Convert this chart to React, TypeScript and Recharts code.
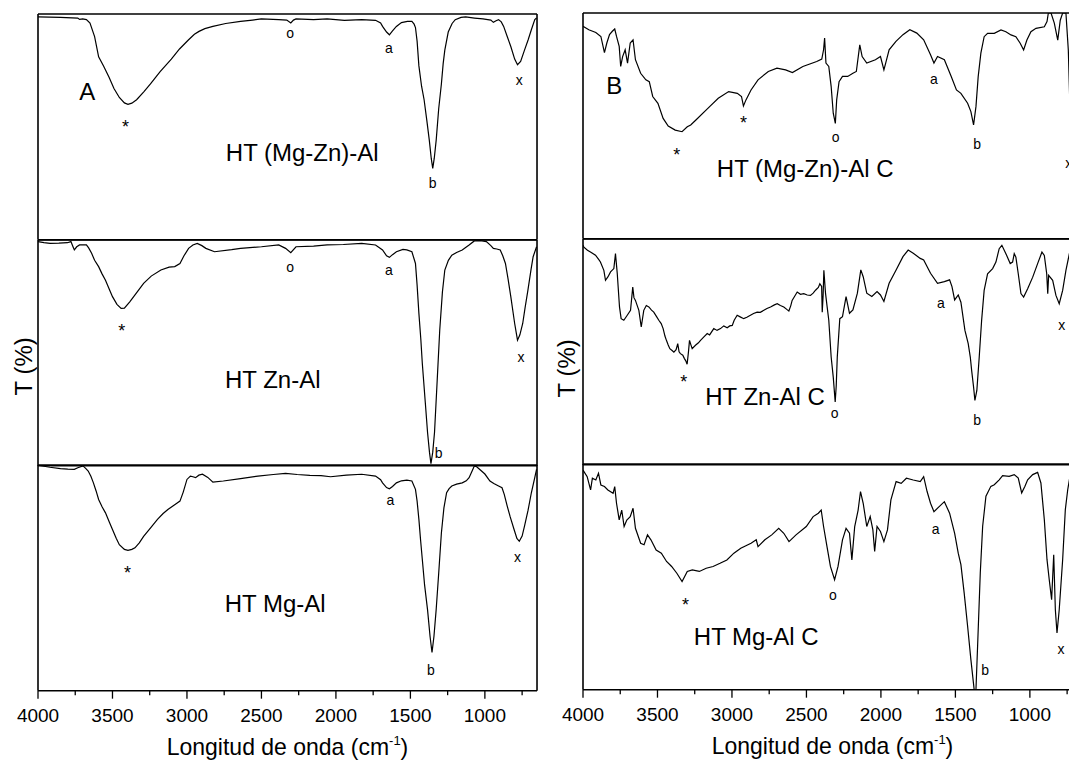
import React from 'react';
import { LineChart, Line, XAxis, YAxis, ReferenceDot, Label } from 'recharts';

const FONT = '"Liberation Sans", Arial, Helvetica, sans-serif';

type Pair = [number, number];
type Note = [string, number, number];

// axis ticks (wavenumber, cm-1) and the transmittance grid ticks
const xTicks = [4000, 3750, 3500, 3250, 3000, 2750, 2500, 2250, 2000, 1750, 1500, 1250, 1000, 750];
const yTicks = [12.5, 25, 37.5, 50, 62.5, 75, 87.5];
const xDomain: [number, number] = [650, 4000];
const yDomain: [number, number] = [0, 100];
const xTitle = 'Longitud de onda (cm';
const xTitleSup = '-1';
const yTitle = 'T (%)';

// ---- Panel A spectra: [wavenumber, T (relative)] ----
const htMgZnAl: Pair[] = [
  [4000, 98.7], [3850, 98.5], [3733, 98.2], [3721, 97.6], [3700, 97.8], [3675, 97.5], [3651, 96], [3620, 90],
  [3593, 81], [3560, 77], [3523, 72], [3490, 67], [3454, 63], [3420, 60.6], [3396, 60], [3370, 60.5], [3338, 62],
  [3290, 65.5], [3245, 69], [3180, 74.5], [3105, 80], [3050, 84.5], [2989, 88.6], [2950, 91], [2919, 92.3],
  [2880, 93.5], [2826, 94.5], [2740, 95.8], [2640, 96.7], [2560, 97.3], [2501, 97.8], [2384, 97.5], [2330, 97.3],
  [2303, 96], [2285, 97.3], [2268, 97.8], [2150, 97.5], [2059, 97.8], [1943, 97.2], [1827, 97.5], [1734, 97.2],
  [1700, 96], [1687, 94.5], [1660, 92], [1641, 90.8], [1620, 92.5], [1594, 94.5], [1560, 96.2], [1520, 96.7],
  [1490, 96.7], [1475, 95.5], [1466, 94], [1455, 88], [1443, 77], [1425, 68], [1408, 62], [1390, 53], [1373, 44],
  [1360, 36], [1350, 31.6], [1340, 36], [1327, 44], [1310, 58], [1292, 69], [1280, 78], [1269, 84], [1246, 92],
  [1220, 95.8], [1199, 97.5], [1160, 98.5], [1129, 98.7], [1070, 98.2], [1013, 97.8], [960, 97.3], [943, 96.3],
  [925, 97], [908, 97.5], [890, 96.5], [874, 94.5], [850, 90], [826, 85.6], [800, 80], [781, 77.5], [760, 79],
  [734, 84], [710, 88.5], [688, 93], [665, 97.5], [653, 98.2],
];

const htZnAl: Pair[] = [
  [4000, 99.3], [3960, 98.8], [3919, 98.5], [3860, 98.6], [3802, 98.8], [3779, 99.3], [3765, 97], [3756, 95.6],
  [3740, 97], [3721, 97.8], [3675, 97.8], [3660, 96.5], [3640, 94.1], [3620, 91], [3593, 88.2], [3570, 85],
  [3547, 82.2], [3520, 78], [3500, 74.9], [3470, 71.5], [3442, 69.7], [3420, 69.8], [3384, 72.6], [3340, 76.5],
  [3291, 80.8], [3240, 84], [3175, 86.7], [3120, 88], [3082, 88.2], [3047, 89.6], [3020, 93], [2989, 96.3],
  [2960, 97.8], [2931, 98.5], [2900, 97.5], [2873, 96.3], [2815, 94.8], [2700, 95.7], [2640, 96.3], [2500, 97],
  [2384, 97.8], [2338, 96.3], [2303, 94.4], [2268, 97], [2150, 97.3], [2059, 97.8], [1950, 98], [1827, 98.5],
  [1734, 97.8], [1687, 95.6], [1660, 93], [1641, 92.3], [1620, 93.5], [1594, 94.8], [1550, 95.8], [1524, 95.6],
  [1490, 94.8], [1466, 89.6], [1455, 80], [1443, 67.5], [1430, 56], [1420, 45.3], [1400, 28], [1385, 14.8],
  [1372, 6], [1362, 0.9], [1350, 6], [1338, 14.8], [1320, 38], [1303, 60.1], [1285, 77], [1269, 86.7],
  [1245, 91], [1222, 93.3], [1190, 94.5], [1152, 95.6], [1106, 97.8], [1071, 99.6], [1030, 99.7], [990, 99.3],
  [960, 97.5], [943, 96.3], [920, 96], [897, 95.6], [880, 93], [862, 89.6], [845, 83], [826, 74.9], [800, 63],
  [781, 55.6], [765, 58], [746, 63], [730, 70], [711, 77.8], [690, 87], [676, 92.6], [653, 97],
];

const htMgAl: Pair[] = [
  [4000, 99.9], [3920, 99], [3849, 98.4], [3800, 98.2], [3756, 98.1], [3733, 98.8], [3698, 99.6], [3680, 98.5],
  [3663, 97.3], [3645, 95], [3628, 92.1], [3610, 88.5], [3593, 84.7], [3570, 81.5], [3547, 78.8], [3520, 74.5],
  [3500, 71.4], [3475, 67.5], [3454, 64.7], [3420, 62.6], [3396, 62.2], [3370, 62.6], [3349, 63.3], [3320, 65.5],
  [3291, 68.4], [3240, 72.5], [3198, 75.9], [3160, 78.5], [3128, 80.3], [3080, 82.5], [3047, 84], [3025, 88],
  [3000, 93.6], [2977, 95.1], [2960, 94.8], [2942, 94.4], [2920, 95.5], [2896, 95.9], [2860, 94.5], [2826, 92.4],
  [2756, 92.9], [2640, 94], [2524, 95.1], [2420, 95.8], [2338, 96.3], [2260, 95.8], [2175, 95.4], [2100, 95.3],
  [2036, 94.8], [1930, 95.5], [1827, 95.9], [1734, 95.1], [1700, 93.5], [1687, 92.1], [1660, 90], [1641, 89.5],
  [1620, 90.5], [1594, 92.1], [1560, 93], [1524, 93.3], [1490, 92.9], [1466, 89.2], [1455, 84], [1443, 75.9],
  [1432, 67], [1420, 58.1], [1405, 47], [1385, 35.9], [1368, 24], [1355, 16.9], [1342, 24], [1327, 35.9],
  [1310, 52], [1292, 69.9], [1275, 81], [1257, 87.7], [1240, 89.5], [1222, 90.7], [1190, 91.5], [1152, 92.1],
  [1125, 93], [1106, 94.4], [1085, 97.5], [1071, 99.6], [1055, 99.2], [1036, 98.1], [1000, 96], [966, 92.9],
  [940, 91.8], [908, 90.7], [885, 89.9], [870, 87], [850, 81.8], [830, 77], [804, 71.4], [785, 67.5], [769, 66.2],
  [750, 68.5], [734, 72.9], [710, 80], [688, 87.7], [670, 93], [653, 98.1],
];

// ---- Panel B spectra (calcined) ----
const htMgZnAlC: Pair[] = [
  [4000, 94.1], [3961, 92.6], [3914, 91.4], [3880, 89.6], [3856, 82.4], [3840, 86.7], [3822, 90.4], [3803, 91.9],
  [3787, 92.9], [3775, 89.6], [3757, 85.2], [3747, 76.3], [3734, 80.7], [3717, 83.7], [3701, 77.8], [3683, 86.7],
  [3664, 88.1], [3648, 79.3], [3613, 73.3], [3578, 70.4], [3555, 69.6], [3532, 63], [3497, 60], [3462, 53.3],
  [3428, 49.9], [3381, 48.1], [3335, 47.4], [3300, 49.6], [3277, 50.4], [3242, 52.6], [3150, 58.5], [3092, 62.2],
  [3022, 65.2], [2964, 64.4], [2936, 63], [2923, 58.8], [2906, 61.5], [2872, 65.9], [2825, 70.4], [2756, 74.1],
  [2698, 75.6], [2640, 74.8], [2594, 73.6], [2524, 76.3], [2431, 78.5], [2397, 79.6], [2385, 83.7], [2378, 88.9],
  [2369, 77.8], [2350, 76.3], [2334, 67.4], [2320, 55.6], [2306, 51.1], [2297, 61.5], [2281, 69.6], [2258, 71.9],
  [2223, 71.9], [2188, 73.3], [2165, 74.1], [2142, 85.9], [2126, 80.7], [2095, 77.8], [2037, 79.3], [2003, 80.7],
  [1980, 74.8], [1968, 77.8], [1945, 83.7], [1899, 87.4], [1852, 90.4], [1806, 92.6], [1759, 91.1], [1713, 88.1],
  [1667, 81.5], [1644, 77.8], [1620, 80.7], [1574, 79.3], [1528, 71.9], [1493, 65.9], [1463, 64.4], [1418, 60],
  [1396, 56.3], [1378, 50.4], [1362, 58.5], [1347, 71.8], [1329, 82.2], [1307, 89.5], [1284, 91], [1239, 91],
  [1194, 92.5], [1161, 91.7], [1127, 90.3], [1094, 89.5], [1065, 86.6], [1042, 83.6], [1020, 88], [993, 91.7],
  [959, 93.2], [903, 93.9], [885, 96.2], [876, 100], [858, 100], [836, 95.5], [813, 88], [796, 96.8], [780, 100],
  [758, 100], [742, 83.6], [733, 63], [722, 35],
];

const htZnAlC: Pair[] = [
  [4000, 97.2], [3994, 96.4], [3970, 95], [3950, 94.2], [3916, 92.8], [3895, 91], [3883, 89.8], [3860, 86.1],
  [3849, 81.7], [3833, 83.2], [3815, 85.4], [3793, 86.9], [3782, 93.5], [3770, 84.7], [3755, 69.9], [3744, 64.7],
  [3726, 64], [3703, 66.2], [3681, 68.4], [3666, 78.7], [3658, 74], [3648, 72.8], [3625, 68.4], [3609, 61],
  [3592, 68.4], [3575, 70.5], [3558, 69.9], [3540, 68.5], [3525, 67.6], [3505, 65.5], [3491, 64], [3475, 62.5],
  [3462, 60.3], [3450, 57], [3440, 55.1], [3428, 53], [3417, 51.4], [3400, 50.5], [3390, 49.9], [3375, 51],
  [3364, 53.6], [3355, 50], [3346, 49.2], [3330, 48.5], [3319, 47], [3310, 46], [3301, 44.5], [3292, 50],
  [3285, 55.1], [3275, 53], [3267, 51.4], [3245, 52.9], [3225, 54], [3211, 55.1], [3190, 56.5], [3166, 58.1],
  [3150, 57.5], [3122, 60.3], [3100, 59.5], [3077, 60.3], [3055, 61.5], [3032, 60.7], [3015, 61.5], [2998, 61.7],
  [2985, 64], [2965, 66.2], [2945, 65.5], [2921, 64.7], [2900, 65.3], [2876, 66.2], [2855, 67], [2831, 67.6],
  [2810, 67.5], [2786, 68.4], [2765, 69.2], [2741, 69.9], [2715, 70.8], [2696, 71.3], [2675, 70.5], [2652, 69.9],
  [2630, 68.7], [2618, 68.1], [2605, 70.5], [2596, 72.8], [2580, 74.5], [2562, 76.5], [2540, 75.5], [2518, 75.8],
  [2495, 75.2], [2473, 75], [2455, 76], [2439, 77.3], [2420, 78.5], [2410, 80.2], [2398, 79], [2394, 67.6],
  [2388, 75], [2383, 86.1], [2372, 76], [2361, 69.9], [2350, 64], [2334, 47.7], [2320, 38.8], [2307, 27.8],
  [2300, 35], [2293, 47.7], [2276, 64.7], [2258, 65.6], [2234, 74.5], [2211, 67.1], [2188, 68.6], [2158, 76],
  [2135, 86.3], [2119, 83.3], [2095, 76], [2061, 74.5], [2026, 76.7], [2003, 75.2], [1980, 72.3], [1945, 80.4],
  [1898, 86.3], [1852, 92.2], [1817, 95.1], [1783, 93.7], [1736, 91.4], [1713, 90.7], [1667, 84.8], [1620, 80.4],
  [1574, 81.1], [1539, 81.9], [1523, 78.9], [1505, 73], [1481, 75.2], [1463, 72], [1436, 59.5], [1414, 53.6],
  [1400, 47.7], [1391, 41.8], [1378, 34.4], [1369, 28.5], [1356, 32.9], [1340, 47.7], [1324, 63.9], [1307, 77.2],
  [1284, 84.6], [1250, 86.9], [1228, 89.8], [1206, 95.7], [1188, 97.2], [1161, 93.5], [1132, 89.1], [1116, 89.8],
  [1105, 93.5], [1094, 92], [1078, 84.6], [1060, 75.8], [1042, 74.3], [1015, 78], [981, 83.1], [948, 89.1],
  [919, 94.2], [903, 92.7], [887, 84.6], [880, 75.8], [874, 83.9], [847, 81.7], [825, 75], [803, 71.3],
  [780, 77.2], [758, 86.1], [735, 93.5], [725, 96],
];

const htMgAlC: Pair[] = [
  [4000, 97.3], [3972, 94.4], [3949, 88.5], [3937, 93.7], [3914, 92.9], [3896, 95.9], [3880, 90.7], [3856, 90],
  [3833, 88.5], [3798, 87], [3787, 90], [3775, 82.6], [3757, 75.2], [3740, 79.6], [3724, 72.3], [3706, 75.2],
  [3683, 76.7], [3664, 80.4], [3648, 71.5], [3613, 64.9], [3590, 64.2], [3567, 68.6], [3544, 66.4], [3509, 61.9],
  [3474, 60.5], [3439, 56.8], [3405, 54.6], [3370, 51.6], [3335, 47.9], [3300, 52.4], [3266, 53.1], [3219, 52.4],
  [3173, 53.8], [3127, 54.6], [3080, 56], [3034, 57.5], [2987, 60.5], [2941, 62.7], [2872, 64.9], [2837, 66.4],
  [2825, 63.4], [2779, 66.4], [2733, 68.6], [2686, 71.5], [2652, 69.3], [2617, 65.6], [2570, 68.6], [2501, 72.3],
  [2455, 76.7], [2420, 78.2], [2401, 79.6], [2385, 72.3], [2362, 63.4], [2339, 54.6], [2311, 48.7], [2288, 54.6],
  [2258, 66.4], [2234, 71.5], [2211, 69.3], [2195, 57.5], [2176, 72.3], [2153, 79.6], [2137, 87.8], [2119, 82.6],
  [2095, 72.3], [2072, 76.7], [2054, 70.8], [2042, 61.2], [2026, 72.3], [2003, 70.1], [1980, 65.6], [1956, 70.8],
  [1933, 84.1], [1898, 92.2], [1864, 91.4], [1829, 93.7], [1783, 92.9], [1736, 92.2], [1713, 94.4], [1690, 87.8],
  [1667, 82.6], [1644, 78.9], [1609, 81.1], [1574, 83.3], [1539, 78.2], [1505, 69.3], [1481, 60.5], [1463, 55.4],
  [1441, 42.8], [1418, 28.1], [1396, 13.3], [1374, 0], [1362, 0], [1351, 19.2], [1333, 51.7], [1317, 72.4],
  [1295, 85.7], [1262, 90.1], [1239, 90.8], [1206, 93], [1183, 94.8], [1139, 94.5], [1105, 95.3], [1078, 93.8],
  [1055, 87.2], [1033, 90.1], [1015, 93], [981, 95.3], [948, 96.3], [926, 91.6], [903, 75.3], [885, 57.6],
  [870, 48.7], [854, 39.9], [840, 59.8], [829, 35.4], [818, 25.1], [803, 35.4], [780, 57.6], [762, 79.8],
  [746, 88.6], [731, 94.5],
];

// ---- annotations: [text, wavenumber, T] ----
const notesMgZnAl: Note[] = [
  ['A', 3670, 65.6], ['*', 3412, 52.3], ['o', 2308, 91.6], ['a', 1645, 84.9], ['b', 1350, 25.2], ['x', 769, 70.8],
  ['HT (Mg-Zn)-Al', 2226, 38.5],
];
const notesZnAl: Note[] = [
  ['*', 3437, 62], ['o', 2308, 87.9], ['a', 1645, 86.7], ['b', 1311, 5.6], ['x', 757, 48.2], ['HT Zn-Al', 2424, 38.3],
];
const notesMgAl: Note[] = [
  ['*', 3400, 54.4], ['a', 1634, 84.4], ['b', 1362, 9.2], ['x', 781, 59.1], ['HT Mg-Al', 2408, 38.5],
];
const notesMgZnAlC: Note[] = [
  ['B', 3791, 67.7], ['*', 3370, 39.6], ['*', 2923, 53.8], ['o', 2304, 45.2], ['a', 1644, 70.7], ['b', 1354, 41.9],
  ['x', 739, 33.4], ['HT (Mg-Zn)-Al C', 2508, 31.1],
];
const notesZnAlC: Note[] = [
  ['*', 3323, 39.1], ['o', 2310, 22.9], ['a', 1597, 71.5], ['b', 1354, 19.6], ['x', 786, 61.7], ['HT Zn-Al C', 2778, 30],
];
const notesMgAlC: Note[] = [
  ['*', 3312, 40.1], ['o', 2322, 42], ['a', 1632, 71.1], ['b', 1301, 8.6], ['x', 791, 18], ['HT Mg-Al C', 2837, 23.6],
];

// ---- layout ----
const PLOT_W = 499;
const PLOT_H = 225.67;
const THIN = 0.01;
const AXIS = { stroke: '#000', strokeWidth: 1.6 };
const TICKLINE = { stroke: '#000', strokeWidth: 1.2 };

const noteShape = (text: string) => (p: any) => {
  const big = /^[A-Z]/.test(text);
  const star = text === '*';
  return (
    <text
      x={p.cx}
      y={p.cy}
      dy={star ? '0.3em' : '0'}
      textAnchor="middle"
      dominantBaseline="central"
      fontSize={big ? 24 : star ? 18 : 14}
      fontFamily={FONT}
      fill="#000"
    >
      {text}
    </text>
  );
};

const BottomTick = (props: any) => {
  const { x, y, payload } = props;
  const major = payload.value % 500 === 0;
  return (
    <g>
      <line x1={x} x2={x} y1={y} y2={y + (major ? 8 : 4.5)} stroke="#000" strokeWidth={1.3} />
      {major && (
        <text x={x} y={y + 31} textAnchor="middle" fontSize={19} fontFamily={FONT} fill="#000">
          {payload.value}
        </text>
      )}
    </g>
  );
};

const xTitleContent = (props: any) => {
  const vb = props.viewBox || {};
  const cx = vb.x + vb.width / 2;
  const by = vb.y + 64;
  return (
    <text x={cx} y={by} textAnchor="middle" fontSize={23} fontFamily={FONT} fill="#000">
      <tspan>{xTitle}</tspan>
      <tspan dy={-10} fontSize={13}>{xTitleSup}</tspan>
      <tspan dy={10}>)</tspan>
    </text>
  );
};

const yTitleContent = (dx: number, dy: number) => (props: any) => {
  const vb = props.viewBox || {};
  const cx = vb.x - dx;
  const cy = vb.y + vb.height / 2 + dy;
  return (
    <text
      x={cx}
      y={cy}
      transform={`rotate(-90 ${cx} ${cy})`}
      textAnchor="middle"
      dominantBaseline="central"
      fontSize={24}
      fontFamily={FONT}
      fill="#000"
    >
      {yTitle}
    </text>
  );
};

type SubProps = {
  series: Pair[];
  notes: Note[];
  left: number;
  top: number;
  bottom?: boolean;
  yShift?: [number, number];
};

function SubPlot({ series, notes, left, top, bottom, yShift }: SubProps) {
  const mL = 45;
  const mR = 5;
  const mT = 5;
  const mB = bottom ? 75 : 5;
  const rows = series.map(([wn, t]) => ({ wn, t }));
  return (
    <div style={{ position: 'absolute', left: left - mL, top: top - mT }}>
      <LineChart
        width={mL + PLOT_W + mR + 2 * THIN}
        height={mT + PLOT_H + mB + 2 * THIN}
        margin={{ top: mT, right: mR, bottom: mB, left: mL }}
      >
        <XAxis
          xAxisId="t"
          orientation="top"
          type="number"
          dataKey="wn"
          domain={xDomain}
          reversed
          allowDataOverflow
          ticks={xTicks}
          interval={0}
          tick={false}
          tickSize={3}
          mirror
          height={THIN}
          axisLine={AXIS}
          tickLine={TICKLINE}
        />
        {bottom ? (
          <XAxis
            xAxisId="b"
            orientation="bottom"
            type="number"
            dataKey="wn"
            domain={xDomain}
            reversed
            allowDataOverflow
            ticks={xTicks}
            interval={0}
            tick={<BottomTick />}
            tickLine={false}
            tickSize={0}
            tickMargin={0}
            height={THIN}
            axisLine={AXIS}
          >
            <Label content={xTitleContent} />
          </XAxis>
        ) : (
          <XAxis
            xAxisId="b"
            orientation="bottom"
            type="number"
            dataKey="wn"
            domain={xDomain}
            reversed
            allowDataOverflow
            ticks={xTicks}
            interval={0}
            tick={false}
            tickSize={3}
            mirror
            height={THIN}
            axisLine={AXIS}
            tickLine={TICKLINE}
          />
        )}
        <YAxis
          yAxisId="l"
          type="number"
          domain={yDomain}
          allowDataOverflow
          ticks={yTicks}
          interval={0}
          tick={false}
          tickSize={3}
          mirror
          width={THIN}
          axisLine={AXIS}
          tickLine={TICKLINE}
        >
          {yShift && <Label content={yTitleContent(yShift[0], yShift[1])} />}
        </YAxis>
        <YAxis
          yAxisId="r"
          orientation="right"
          type="number"
          domain={yDomain}
          allowDataOverflow
          ticks={yTicks}
          interval={0}
          tick={false}
          tickSize={3}
          mirror
          width={THIN}
          axisLine={AXIS}
          tickLine={TICKLINE}
        />
        <Line
          xAxisId="b"
          yAxisId="l"
          data={rows}
          dataKey="t"
          type="linear"
          dot={false}
          activeDot={false}
          stroke="#000"
          strokeWidth={1.2}
          isAnimationActive={false}
        />
        {notes.map(([text, wn, t], i) => (
          <ReferenceDot
            key={i}
            xAxisId="b"
            yAxisId="l"
            x={wn}
            y={t}
            r={1}
            ifOverflow="visible"
            shape={noteShape(text)}
          />
        ))}
      </LineChart>
    </div>
  );
}

export default function App() {
  const la = 38;
  const lb = 582.5;
  const ta = 14;
  const tb = 13;
  return (
    <div
      style={{
        position: 'absolute',
        left: 0,
        top: 0,
        width: 1069,
        height: 761,
        overflow: 'hidden',
        background: '#fff',
      }}
    >
      <SubPlot series={htMgZnAl} notes={notesMgZnAl} left={la} top={ta} />
      <SubPlot series={htZnAl} notes={notesZnAl} left={la} top={ta + PLOT_H} yShift={[14, 13.5]} />
      <SubPlot series={htMgAl} notes={notesMgAl} left={la} top={ta + 2 * PLOT_H} bottom />
      <SubPlot series={htMgZnAlC} notes={notesMgZnAlC} left={lb} top={tb} />
      <SubPlot series={htZnAlC} notes={notesZnAlC} left={lb} top={tb + PLOT_H} yShift={[16.5, 16.5]} />
      <SubPlot series={htMgAlC} notes={notesMgAlC} left={lb} top={tb + 2 * PLOT_H} bottom />
    </div>
  );
}
